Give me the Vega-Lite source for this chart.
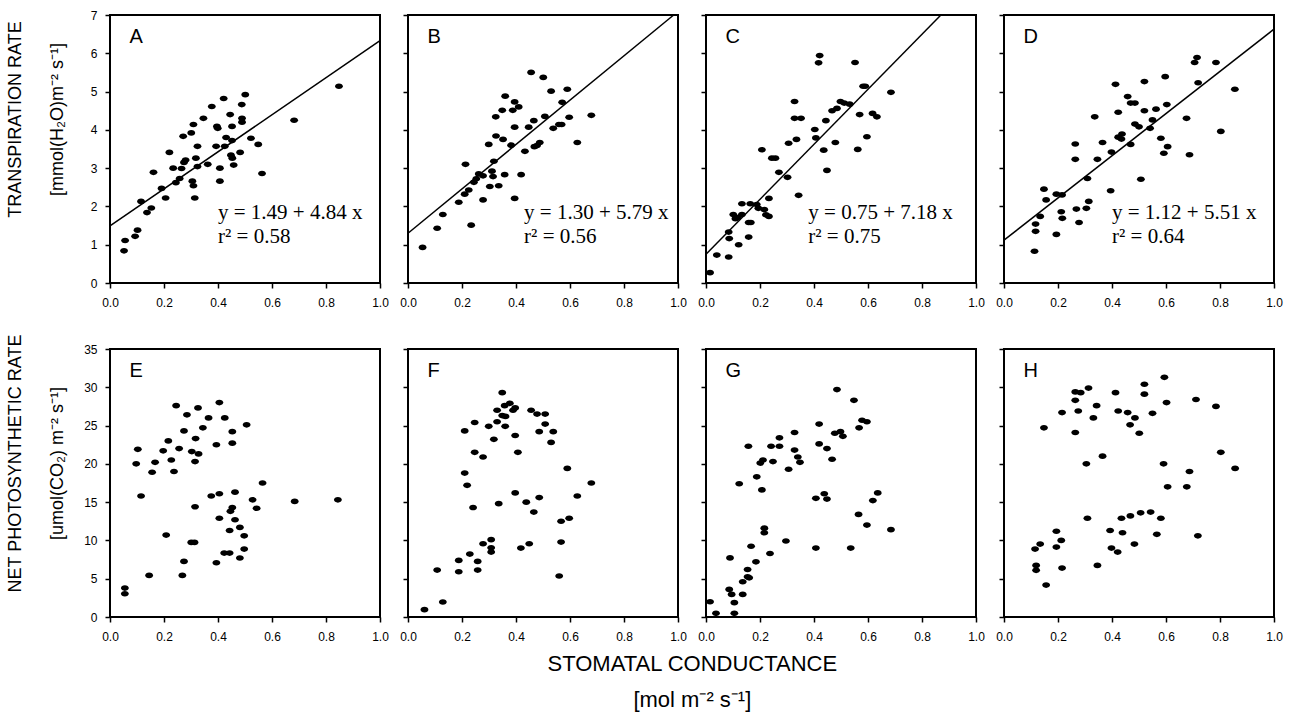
{
"$schema":"https://vega.github.io/schema/vega-lite/v6.json",
"background":"white",
"padding":{"left":5,"top":8,"right":5,"bottom":3},
"config":{
 "view":{"stroke":"black","strokeWidth":2},
 "axis":{"grid":false,"domain":false,"ticks":true,"tickColor":"black","tickWidth":1.5,"tickSize":5,"labelFont":"Liberation Sans","labelFontSize":12,"labelColor":"black","labelFlush":false,"labelOverlap":false,"titleFont":"Liberation Sans","titleFontSize":18,"titleFontWeight":"normal","titleColor":"black","titleLineHeight":42},
 "axisX":{"labelPadding":9},
 "axisY":{"labelPadding":8},
 "point":{"shape":"M-1,0A1,0.72 0 1,1 1,0A1,0.72 0 1,1 -1,0Z","filled":true,"color":"black","opacity":1,"size":62},
 "line":{"color":"black","strokeWidth":1.5}
},
"title":{"text":["STOMATAL CONDUCTANCE","[mol m⁻² s⁻¹]"],"orient":"bottom","anchor":"middle","frame":"bounds","dx":48,"font":"Liberation Sans","fontSize":22,"fontWeight":"normal","color":"black","lineHeight":36,"offset":11},
"datasets":{
"fit":[
{"p":"A","g":0,"r":1.49},{"p":"A","g":1,"r":6.33},
{"p":"B","g":0,"r":1.30},{"p":"B","g":0.984,"r":7.0},
{"p":"C","g":0,"r":0.75},{"p":"C","g":0.870,"r":7.0},
{"p":"D","g":0,"r":1.12},{"p":"D","g":1,"r":6.63}
],
"ann":[
{"p":"A","k":"L","g":0.072,"r":6.26,"t":"A"},{"p":"B","k":"L","g":0.072,"r":6.26,"t":"B"},{"p":"C","k":"L","g":0.072,"r":6.26,"t":"C"},{"p":"D","k":"L","g":0.072,"r":6.26,"t":"D"},
{"p":"E","k":"L","g":0.072,"r":31.3,"t":"E"},{"p":"F","k":"L","g":0.072,"r":31.3,"t":"F"},{"p":"G","k":"L","g":0.072,"r":31.3,"t":"G"},{"p":"H","k":"L","g":0.072,"r":31.3,"t":"H"},
{"p":"A","k":"E","g":0.40,"r":1.66,"t":"y = 1.49 + 4.84 x"},{"p":"A","k":"E","g":0.40,"r":1.04,"t":"r² = 0.58"},
{"p":"B","k":"E","g":0.43,"r":1.66,"t":"y = 1.30 + 5.79 x"},{"p":"B","k":"E","g":0.43,"r":1.04,"t":"r² = 0.56"},
{"p":"C","k":"E","g":0.379,"r":1.66,"t":"y = 0.75 + 7.18 x"},{"p":"C","k":"E","g":0.379,"r":1.04,"t":"r² = 0.75"},
{"p":"D","k":"E","g":0.40,"r":1.66,"t":"y = 1.12 + 5.51 x"},{"p":"D","k":"E","g":0.40,"r":1.04,"t":"r² = 0.64"}
],
"pts":[
{"p":"A","g":0.052,"r":0.84},{"p":"A","g":0.056,"r":1.11},{"p":"A","g":0.093,"r":1.22},{"p":"A","g":0.102,"r":1.38},{"p":"A","g":0.115,"r":2.13},{"p":"A","g":0.137,"r":1.84},{"p":"A","g":0.153,"r":1.96},{"p":"A","g":0.161,"r":2.89},{"p":"A","g":0.191,"r":2.47},{"p":"A","g":0.206,"r":2.22},{"p":"A","g":0.220,"r":3.41},{"p":"A","g":0.234,"r":3.00},{"p":"A","g":0.244,"r":2.62},{"p":"A","g":0.258,"r":2.73},{"p":"A","g":0.271,"r":3.83},{"p":"A","g":0.265,"r":2.99},{"p":"A","g":0.274,"r":3.15},{"p":"A","g":0.280,"r":3.21},{"p":"A","g":0.301,"r":3.92},{"p":"A","g":0.309,"r":4.14},{"p":"A","g":0.305,"r":2.66},{"p":"A","g":0.309,"r":2.54},{"p":"A","g":0.314,"r":2.22},{"p":"A","g":0.318,"r":3.26},{"p":"A","g":0.324,"r":3.57},{"p":"A","g":0.324,"r":3.04},{"p":"A","g":0.346,"r":4.30},{"p":"A","g":0.362,"r":3.10},{"p":"A","g":0.377,"r":4.61},{"p":"A","g":0.393,"r":3.57},{"p":"A","g":0.396,"r":4.09},{"p":"A","g":0.399,"r":4.04},{"p":"A","g":0.407,"r":3.00},{"p":"A","g":0.407,"r":2.66},{"p":"A","g":0.421,"r":4.82},{"p":"A","g":0.425,"r":3.57},{"p":"A","g":0.430,"r":3.80},{"p":"A","g":0.445,"r":4.40},{"p":"A","g":0.448,"r":3.34},{"p":"A","g":0.452,"r":3.72},{"p":"A","g":0.452,"r":4.09},{"p":"A","g":0.453,"r":3.26},{"p":"A","g":0.458,"r":3.08},{"p":"A","g":0.482,"r":3.41},{"p":"A","g":0.488,"r":4.66},{"p":"A","g":0.489,"r":4.30},{"p":"A","g":0.489,"r":4.20},{"p":"A","g":0.501,"r":4.92},{"p":"A","g":0.522,"r":3.78},{"p":"A","g":0.549,"r":3.62},{"p":"A","g":0.563,"r":2.86},{"p":"A","g":0.682,"r":4.25},{"p":"A","g":0.848,"r":5.14},
{"p":"B","g":0.054,"r":0.93},{"p":"B","g":0.108,"r":1.43},{"p":"B","g":0.129,"r":1.79},{"p":"B","g":0.188,"r":2.11},{"p":"B","g":0.210,"r":2.32},{"p":"B","g":0.213,"r":3.10},{"p":"B","g":0.225,"r":2.43},{"p":"B","g":0.234,"r":1.51},{"p":"B","g":0.244,"r":2.63},{"p":"B","g":0.253,"r":2.72},{"p":"B","g":0.262,"r":2.85},{"p":"B","g":0.278,"r":2.17},{"p":"B","g":0.278,"r":2.80},{"p":"B","g":0.299,"r":3.62},{"p":"B","g":0.303,"r":2.52},{"p":"B","g":0.311,"r":2.92},{"p":"B","g":0.315,"r":2.78},{"p":"B","g":0.318,"r":3.18},{"p":"B","g":0.325,"r":4.34},{"p":"B","g":0.326,"r":3.84},{"p":"B","g":0.336,"r":2.54},{"p":"B","g":0.349,"r":4.51},{"p":"B","g":0.352,"r":3.75},{"p":"B","g":0.358,"r":2.83},{"p":"B","g":0.360,"r":4.88},{"p":"B","g":0.382,"r":3.60},{"p":"B","g":0.388,"r":4.51},{"p":"B","g":0.395,"r":4.73},{"p":"B","g":0.395,"r":4.07},{"p":"B","g":0.395,"r":2.21},{"p":"B","g":0.410,"r":4.60},{"p":"B","g":0.419,"r":2.83},{"p":"B","g":0.433,"r":3.44},{"p":"B","g":0.447,"r":4.07},{"p":"B","g":0.456,"r":5.50},{"p":"B","g":0.466,"r":4.24},{"p":"B","g":0.468,"r":3.56},{"p":"B","g":0.478,"r":3.59},{"p":"B","g":0.488,"r":3.67},{"p":"B","g":0.501,"r":5.37},{"p":"B","g":0.507,"r":4.35},{"p":"B","g":0.530,"r":5.01},{"p":"B","g":0.538,"r":4.04},{"p":"B","g":0.559,"r":4.14},{"p":"B","g":0.569,"r":4.14},{"p":"B","g":0.571,"r":4.72},{"p":"B","g":0.590,"r":5.06},{"p":"B","g":0.597,"r":4.33},{"p":"B","g":0.627,"r":3.67},{"p":"B","g":0.679,"r":4.38},
{"p":"C","g":0.015,"r":0.27},{"p":"C","g":0.040,"r":0.73},{"p":"C","g":0.084,"r":0.68},{"p":"C","g":0.086,"r":1.16},{"p":"C","g":0.084,"r":1.33},{"p":"C","g":0.121,"r":1.00},{"p":"C","g":0.101,"r":1.79},{"p":"C","g":0.109,"r":1.68},{"p":"C","g":0.117,"r":1.71},{"p":"C","g":0.133,"r":1.79},{"p":"C","g":0.133,"r":2.07},{"p":"C","g":0.158,"r":1.20},{"p":"C","g":0.158,"r":1.58},{"p":"C","g":0.166,"r":1.58},{"p":"C","g":0.164,"r":2.07},{"p":"C","g":0.188,"r":2.05},{"p":"C","g":0.194,"r":1.95},{"p":"C","g":0.216,"r":1.92},{"p":"C","g":0.222,"r":1.78},{"p":"C","g":0.233,"r":1.74},{"p":"C","g":0.233,"r":2.21},{"p":"C","g":0.207,"r":3.48},{"p":"C","g":0.244,"r":3.26},{"p":"C","g":0.257,"r":3.26},{"p":"C","g":0.270,"r":2.89},{"p":"C","g":0.302,"r":2.76},{"p":"C","g":0.306,"r":3.65},{"p":"C","g":0.328,"r":4.74},{"p":"C","g":0.328,"r":4.30},{"p":"C","g":0.352,"r":4.30},{"p":"C","g":0.335,"r":3.75},{"p":"C","g":0.343,"r":2.29},{"p":"C","g":0.403,"r":4.01},{"p":"C","g":0.407,"r":3.79},{"p":"C","g":0.417,"r":5.75},{"p":"C","g":0.421,"r":5.94},{"p":"C","g":0.436,"r":3.47},{"p":"C","g":0.444,"r":4.24},{"p":"C","g":0.448,"r":2.94},{"p":"C","g":0.467,"r":4.50},{"p":"C","g":0.479,"r":3.67},{"p":"C","g":0.485,"r":4.56},{"p":"C","g":0.498,"r":4.74},{"p":"C","g":0.512,"r":4.70},{"p":"C","g":0.532,"r":4.67},{"p":"C","g":0.552,"r":5.76},{"p":"C","g":0.562,"r":3.49},{"p":"C","g":0.569,"r":4.40},{"p":"C","g":0.582,"r":5.14},{"p":"C","g":0.590,"r":5.14},{"p":"C","g":0.596,"r":3.82},{"p":"C","g":0.617,"r":4.43},{"p":"C","g":0.633,"r":4.34},{"p":"C","g":0.685,"r":4.98},
{"p":"D","g":0.113,"r":0.83},{"p":"D","g":0.117,"r":1.35},{"p":"D","g":0.117,"r":1.54},{"p":"D","g":0.134,"r":1.74},{"p":"D","g":0.148,"r":2.45},{"p":"D","g":0.156,"r":2.17},{"p":"D","g":0.194,"r":1.27},{"p":"D","g":0.194,"r":2.32},{"p":"D","g":0.215,"r":2.30},{"p":"D","g":0.212,"r":1.86},{"p":"D","g":0.216,"r":1.69},{"p":"D","g":0.268,"r":1.93},{"p":"D","g":0.264,"r":3.63},{"p":"D","g":0.264,"r":3.23},{"p":"D","g":0.278,"r":1.58},{"p":"D","g":0.309,"r":2.73},{"p":"D","g":0.305,"r":1.95},{"p":"D","g":0.314,"r":2.13},{"p":"D","g":0.336,"r":4.34},{"p":"D","g":0.346,"r":3.23},{"p":"D","g":0.365,"r":3.67},{"p":"D","g":0.395,"r":2.41},{"p":"D","g":0.398,"r":3.42},{"p":"D","g":0.413,"r":5.19},{"p":"D","g":0.423,"r":4.46},{"p":"D","g":0.423,"r":3.81},{"p":"D","g":0.437,"r":3.89},{"p":"D","g":0.435,"r":3.76},{"p":"D","g":0.458,"r":4.87},{"p":"D","g":0.469,"r":4.70},{"p":"D","g":0.485,"r":4.70},{"p":"D","g":0.469,"r":3.62},{"p":"D","g":0.485,"r":4.15},{"p":"D","g":0.500,"r":4.08},{"p":"D","g":0.507,"r":2.71},{"p":"D","g":0.520,"r":5.26},{"p":"D","g":0.520,"r":4.50},{"p":"D","g":0.541,"r":4.04},{"p":"D","g":0.550,"r":4.26},{"p":"D","g":0.563,"r":4.54},{"p":"D","g":0.581,"r":3.78},{"p":"D","g":0.592,"r":3.39},{"p":"D","g":0.597,"r":5.39},{"p":"D","g":0.603,"r":4.66},{"p":"D","g":0.606,"r":3.56},{"p":"D","g":0.676,"r":4.30},{"p":"D","g":0.687,"r":3.35},{"p":"D","g":0.706,"r":5.76},{"p":"D","g":0.715,"r":5.89},{"p":"D","g":0.719,"r":5.23},{"p":"D","g":0.785,"r":5.76},{"p":"D","g":0.803,"r":3.96},{"p":"D","g":0.855,"r":5.06},
{"p":"E","g":0.055,"r":3.78},{"p":"E","g":0.055,"r":3.04},{"p":"E","g":0.097,"r":20.0},{"p":"E","g":0.103,"r":21.9},{"p":"E","g":0.115,"r":15.8},{"p":"E","g":0.145,"r":5.43},{"p":"E","g":0.156,"r":18.9},{"p":"E","g":0.167,"r":20.2},{"p":"E","g":0.197,"r":21.7},{"p":"E","g":0.208,"r":10.7},{"p":"E","g":0.216,"r":23.0},{"p":"E","g":0.227,"r":20.5},{"p":"E","g":0.237,"r":19.0},{"p":"E","g":0.245,"r":27.6},{"p":"E","g":0.256,"r":22.0},{"p":"E","g":0.268,"r":5.43},{"p":"E","g":0.274,"r":7.26},{"p":"E","g":0.274,"r":24.3},{"p":"E","g":0.285,"r":26.4},{"p":"E","g":0.301,"r":9.74},{"p":"E","g":0.313,"r":9.74},{"p":"E","g":0.303,"r":21.6},{"p":"E","g":0.315,"r":20.3},{"p":"E","g":0.315,"r":14.4},{"p":"E","g":0.317,"r":23.3},{"p":"E","g":0.326,"r":27.3},{"p":"E","g":0.328,"r":21.3},{"p":"E","g":0.344,"r":24.7},{"p":"E","g":0.365,"r":26.0},{"p":"E","g":0.375,"r":15.8},{"p":"E","g":0.394,"r":7.09},{"p":"E","g":0.394,"r":22.5},{"p":"E","g":0.405,"r":28.0},{"p":"E","g":0.405,"r":16.1},{"p":"E","g":0.405,"r":12.9},{"p":"E","g":0.423,"r":8.35},{"p":"E","g":0.425,"r":26.0},{"p":"E","g":0.443,"r":8.35},{"p":"E","g":0.443,"r":11.3},{"p":"E","g":0.446,"r":13.8},{"p":"E","g":0.453,"r":14.3},{"p":"E","g":0.453,"r":24.2},{"p":"E","g":0.453,"r":22.7},{"p":"E","g":0.463,"r":16.3},{"p":"E","g":0.463,"r":12.7},{"p":"E","g":0.481,"r":11.7},{"p":"E","g":0.481,"r":7.70},{"p":"E","g":0.497,"r":10.6},{"p":"E","g":0.497,"r":8.87},{"p":"E","g":0.506,"r":25.1},{"p":"E","g":0.528,"r":15.3},{"p":"E","g":0.543,"r":14.2},{"p":"E","g":0.565,"r":17.5},{"p":"E","g":0.684,"r":15.1},{"p":"E","g":0.844,"r":15.3},
{"p":"F","g":0.061,"r":0.96},{"p":"F","g":0.129,"r":1.96},{"p":"F","g":0.108,"r":6.13},{"p":"F","g":0.188,"r":7.39},{"p":"F","g":0.188,"r":5.91},{"p":"F","g":0.210,"r":24.3},{"p":"F","g":0.210,"r":18.8},{"p":"F","g":0.219,"r":17.2},{"p":"F","g":0.229,"r":8.22},{"p":"F","g":0.241,"r":14.3},{"p":"F","g":0.247,"r":25.4},{"p":"F","g":0.247,"r":21.5},{"p":"F","g":0.258,"r":7.26},{"p":"F","g":0.258,"r":6.13},{"p":"F","g":0.278,"r":20.9},{"p":"F","g":0.278,"r":9.57},{"p":"F","g":0.299,"r":24.9},{"p":"F","g":0.308,"r":10.1},{"p":"F","g":0.308,"r":9.04},{"p":"F","g":0.308,"r":8.48},{"p":"F","g":0.318,"r":23.2},{"p":"F","g":0.330,"r":27.0},{"p":"F","g":0.330,"r":25.5},{"p":"F","g":0.336,"r":14.8},{"p":"F","g":0.349,"r":29.3},{"p":"F","g":0.349,"r":26.3},{"p":"F","g":0.358,"r":27.6},{"p":"F","g":0.361,"r":26.2},{"p":"F","g":0.360,"r":24.9},{"p":"F","g":0.377,"r":27.9},{"p":"F","g":0.389,"r":27.0},{"p":"F","g":0.397,"r":27.3},{"p":"F","g":0.397,"r":23.7},{"p":"F","g":0.397,"r":16.2},{"p":"F","g":0.407,"r":21.5},{"p":"F","g":0.418,"r":9.0},{"p":"F","g":0.438,"r":15.0},{"p":"F","g":0.449,"r":9.57},{"p":"F","g":0.456,"r":27.0},{"p":"F","g":0.466,"r":13.7},{"p":"F","g":0.478,"r":26.5},{"p":"F","g":0.486,"r":24.2},{"p":"F","g":0.486,"r":15.6},{"p":"F","g":0.508,"r":26.5},{"p":"F","g":0.508,"r":25.2},{"p":"F","g":0.530,"r":22.8},{"p":"F","g":0.538,"r":24.2},{"p":"F","g":0.560,"r":5.35},{"p":"F","g":0.567,"r":12.5},{"p":"F","g":0.567,"r":9.78},{"p":"F","g":0.590,"r":19.4},{"p":"F","g":0.597,"r":12.9},{"p":"F","g":0.627,"r":15.8},{"p":"F","g":0.679,"r":17.5},
{"p":"G","g":0.015,"r":1.99},{"p":"G","g":0.037,"r":0.48},{"p":"G","g":0.105,"r":0.48},{"p":"G","g":0.105,"r":1.87},{"p":"G","g":0.095,"r":2.95},{"p":"G","g":0.086,"r":3.60},{"p":"G","g":0.089,"r":7.72},{"p":"G","g":0.136,"r":2.95},{"p":"G","g":0.136,"r":4.60},{"p":"G","g":0.154,"r":5.25},{"p":"G","g":0.160,"r":5.12},{"p":"G","g":0.154,"r":6.20},{"p":"G","g":0.185,"r":7.20},{"p":"G","g":0.167,"r":9.24},{"p":"G","g":0.237,"r":8.29},{"p":"G","g":0.296,"r":9.93},{"p":"G","g":0.216,"r":11.6},{"p":"G","g":0.216,"r":11.0},{"p":"G","g":0.123,"r":17.4},{"p":"G","g":0.207,"r":16.6},{"p":"G","g":0.157,"r":22.3},{"p":"G","g":0.188,"r":18.3},{"p":"G","g":0.201,"r":20.1},{"p":"G","g":0.211,"r":20.5},{"p":"G","g":0.241,"r":22.3},{"p":"G","g":0.248,"r":20.3},{"p":"G","g":0.272,"r":23.4},{"p":"G","g":0.272,"r":22.3},{"p":"G","g":0.306,"r":19.3},{"p":"G","g":0.328,"r":24.1},{"p":"G","g":0.328,"r":21.8},{"p":"G","g":0.340,"r":20.9},{"p":"G","g":0.348,"r":20.2},{"p":"G","g":0.407,"r":15.5},{"p":"G","g":0.407,"r":9.0},{"p":"G","g":0.419,"r":25.2},{"p":"G","g":0.419,"r":22.6},{"p":"G","g":0.438,"r":16.1},{"p":"G","g":0.448,"r":15.4},{"p":"G","g":0.448,"r":22.0},{"p":"G","g":0.467,"r":20.6},{"p":"G","g":0.477,"r":24.0},{"p":"G","g":0.485,"r":29.7},{"p":"G","g":0.498,"r":24.2},{"p":"G","g":0.507,"r":23.6},{"p":"G","g":0.536,"r":9.0},{"p":"G","g":0.548,"r":28.3},{"p":"G","g":0.565,"r":13.4},{"p":"G","g":0.567,"r":24.7},{"p":"G","g":0.578,"r":25.7},{"p":"G","g":0.596,"r":25.5},{"p":"G","g":0.596,"r":12.0},{"p":"G","g":0.618,"r":15.2},{"p":"G","g":0.636,"r":16.2},{"p":"G","g":0.685,"r":11.4},
{"p":"H","g":0.115,"r":8.87},{"p":"H","g":0.119,"r":6.74},{"p":"H","g":0.119,"r":6.09},{"p":"H","g":0.134,"r":9.52},{"p":"H","g":0.148,"r":24.7},{"p":"H","g":0.156,"r":4.17},{"p":"H","g":0.194,"r":11.2},{"p":"H","g":0.194,"r":9.13},{"p":"H","g":0.212,"r":10.0},{"p":"H","g":0.215,"r":6.39},{"p":"H","g":0.215,"r":26.7},{"p":"H","g":0.264,"r":29.4},{"p":"H","g":0.264,"r":28.3},{"p":"H","g":0.264,"r":24.1},{"p":"H","g":0.275,"r":26.9},{"p":"H","g":0.284,"r":29.3},{"p":"H","g":0.305,"r":20.0},{"p":"H","g":0.309,"r":12.9},{"p":"H","g":0.313,"r":29.9},{"p":"H","g":0.331,"r":26.0},{"p":"H","g":0.343,"r":27.6},{"p":"H","g":0.346,"r":6.74},{"p":"H","g":0.365,"r":21.0},{"p":"H","g":0.393,"r":11.3},{"p":"H","g":0.398,"r":9.0},{"p":"H","g":0.413,"r":29.3},{"p":"H","g":0.421,"r":8.48},{"p":"H","g":0.423,"r":26.9},{"p":"H","g":0.435,"r":12.9},{"p":"H","g":0.439,"r":11.0},{"p":"H","g":0.458,"r":26.7},{"p":"H","g":0.467,"r":25.1},{"p":"H","g":0.468,"r":13.2},{"p":"H","g":0.483,"r":9.52},{"p":"H","g":0.485,"r":26.0},{"p":"H","g":0.501,"r":24.0},{"p":"H","g":0.506,"r":13.6},{"p":"H","g":0.520,"r":30.4},{"p":"H","g":0.520,"r":29.1},{"p":"H","g":0.543,"r":13.7},{"p":"H","g":0.550,"r":26.6},{"p":"H","g":0.566,"r":10.8},{"p":"H","g":0.581,"r":12.9},{"p":"H","g":0.591,"r":20.0},{"p":"H","g":0.594,"r":31.3},{"p":"H","g":0.602,"r":28.0},{"p":"H","g":0.606,"r":17.0},{"p":"H","g":0.677,"r":17.0},{"p":"H","g":0.687,"r":19.0},{"p":"H","g":0.711,"r":28.4},{"p":"H","g":0.718,"r":10.6},{"p":"H","g":0.785,"r":27.5},{"p":"H","g":0.803,"r":21.5},{"p":"H","g":0.856,"r":19.4}
]
},
"columns":4,
"spacing":{"row":66,"column":28},
"bounds":"flush",
"concat":[
{"width":270,"height":268,
 "encoding":{"x":{"field":"g","type":"quantitative","scale":{"domain":[0,1],"nice":false},"axis":{"values":[0,0.2,0.4,0.6,0.8,1],"format":".1f","title":null}},
   "y":{"field":"r","type":"quantitative","scale":{"domain":[0,7],"nice":false},"axis":{"values":[0,1,2,3,4,5,6,7],"format":"d","title":["TRANSPIRATION RATE","[mmol(H₂O)m⁻² s⁻¹]"],"titlePadding":24,"titleY":104}}},
 "layer":[
 {"data":{"name":"pts"},"transform":[{"filter":"datum.p==='A'"}],"mark":"point"},
 {"data":{"name":"fit"},"transform":[{"filter":"datum.p==='A'"}],"mark":"line"},
 {"data":{"name":"ann"},"transform":[{"filter":"datum.p==='A' && datum.k==='L'"}],"mark":{"type":"text","align":"left","baseline":"alphabetic","font":"Liberation Sans","fontSize":20,"color":"black"},"encoding":{"text":{"field":"t"}}},
 {"data":{"name":"ann"},"transform":[{"filter":"datum.p==='A' && datum.k==='E'"}],"mark":{"type":"text","align":"left","baseline":"alphabetic","font":"Liberation Serif","fontSize":21,"color":"black"},"encoding":{"text":{"field":"t"}}}
]},
{"width":270,"height":268,
 "encoding":{"x":{"field":"g","type":"quantitative","scale":{"domain":[0,1],"nice":false},"axis":{"values":[0,0.2,0.4,0.6,0.8,1],"format":".1f","title":null}},
   "y":{"field":"r","type":"quantitative","scale":{"domain":[0,7],"nice":false},"axis":{"values":[0,1,2,3,4,5,6,7],"labels":false,"title":null}}},
 "layer":[
 {"data":{"name":"pts"},"transform":[{"filter":"datum.p==='B'"}],"mark":"point"},
 {"data":{"name":"fit"},"transform":[{"filter":"datum.p==='B'"}],"mark":"line"},
 {"data":{"name":"ann"},"transform":[{"filter":"datum.p==='B' && datum.k==='L'"}],"mark":{"type":"text","align":"left","baseline":"alphabetic","font":"Liberation Sans","fontSize":20,"color":"black"},"encoding":{"text":{"field":"t"}}},
 {"data":{"name":"ann"},"transform":[{"filter":"datum.p==='B' && datum.k==='E'"}],"mark":{"type":"text","align":"left","baseline":"alphabetic","font":"Liberation Serif","fontSize":21,"color":"black"},"encoding":{"text":{"field":"t"}}}
]},
{"width":270,"height":268,
 "encoding":{"x":{"field":"g","type":"quantitative","scale":{"domain":[0,1],"nice":false},"axis":{"values":[0,0.2,0.4,0.6,0.8,1],"format":".1f","title":null}},
   "y":{"field":"r","type":"quantitative","scale":{"domain":[0,7],"nice":false},"axis":{"values":[0,1,2,3,4,5,6,7],"labels":false,"title":null}}},
 "layer":[
 {"data":{"name":"pts"},"transform":[{"filter":"datum.p==='C'"}],"mark":"point"},
 {"data":{"name":"fit"},"transform":[{"filter":"datum.p==='C'"}],"mark":"line"},
 {"data":{"name":"ann"},"transform":[{"filter":"datum.p==='C' && datum.k==='L'"}],"mark":{"type":"text","align":"left","baseline":"alphabetic","font":"Liberation Sans","fontSize":20,"color":"black"},"encoding":{"text":{"field":"t"}}},
 {"data":{"name":"ann"},"transform":[{"filter":"datum.p==='C' && datum.k==='E'"}],"mark":{"type":"text","align":"left","baseline":"alphabetic","font":"Liberation Serif","fontSize":21,"color":"black"},"encoding":{"text":{"field":"t"}}}
]},
{"width":270,"height":268,
 "encoding":{"x":{"field":"g","type":"quantitative","scale":{"domain":[0,1],"nice":false},"axis":{"values":[0,0.2,0.4,0.6,0.8,1],"format":".1f","title":null}},
   "y":{"field":"r","type":"quantitative","scale":{"domain":[0,7],"nice":false},"axis":{"values":[0,1,2,3,4,5,6,7],"labels":false,"title":null}}},
 "layer":[
 {"data":{"name":"pts"},"transform":[{"filter":"datum.p==='D'"}],"mark":"point"},
 {"data":{"name":"fit"},"transform":[{"filter":"datum.p==='D'"}],"mark":"line"},
 {"data":{"name":"ann"},"transform":[{"filter":"datum.p==='D' && datum.k==='L'"}],"mark":{"type":"text","align":"left","baseline":"alphabetic","font":"Liberation Sans","fontSize":20,"color":"black"},"encoding":{"text":{"field":"t"}}},
 {"data":{"name":"ann"},"transform":[{"filter":"datum.p==='D' && datum.k==='E'"}],"mark":{"type":"text","align":"left","baseline":"alphabetic","font":"Liberation Serif","fontSize":21,"color":"black"},"encoding":{"text":{"field":"t"}}}
]},
{"width":270,"height":268,
 "encoding":{"x":{"field":"g","type":"quantitative","scale":{"domain":[0,1],"nice":false},"axis":{"values":[0,0.2,0.4,0.6,0.8,1],"format":".1f","title":null}},
   "y":{"field":"r","type":"quantitative","scale":{"domain":[0,35],"nice":false},"axis":{"values":[0,5,10,15,20,25,30,35],"format":"d","title":["NET PHOTOSYNTHETIC RATE","[umol(CO₂) m⁻² s⁻¹]"],"titlePadding":17,"titleY":114}}},
 "layer":[
 {"data":{"name":"pts"},"transform":[{"filter":"datum.p==='E'"}],"mark":"point"},
 {"data":{"name":"ann"},"transform":[{"filter":"datum.p==='E' && datum.k==='L'"}],"mark":{"type":"text","align":"left","baseline":"alphabetic","font":"Liberation Sans","fontSize":20,"color":"black"},"encoding":{"text":{"field":"t"}}}
]},
{"width":270,"height":268,
 "encoding":{"x":{"field":"g","type":"quantitative","scale":{"domain":[0,1],"nice":false},"axis":{"values":[0,0.2,0.4,0.6,0.8,1],"format":".1f","title":null}},
   "y":{"field":"r","type":"quantitative","scale":{"domain":[0,35],"nice":false},"axis":{"values":[0,5,10,15,20,25,30,35],"labels":false,"title":null}}},
 "layer":[
 {"data":{"name":"pts"},"transform":[{"filter":"datum.p==='F'"}],"mark":"point"},
 {"data":{"name":"ann"},"transform":[{"filter":"datum.p==='F' && datum.k==='L'"}],"mark":{"type":"text","align":"left","baseline":"alphabetic","font":"Liberation Sans","fontSize":20,"color":"black"},"encoding":{"text":{"field":"t"}}}
]},
{"width":270,"height":268,
 "encoding":{"x":{"field":"g","type":"quantitative","scale":{"domain":[0,1],"nice":false},"axis":{"values":[0,0.2,0.4,0.6,0.8,1],"format":".1f","title":null}},
   "y":{"field":"r","type":"quantitative","scale":{"domain":[0,35],"nice":false},"axis":{"values":[0,5,10,15,20,25,30,35],"labels":false,"title":null}}},
 "layer":[
 {"data":{"name":"pts"},"transform":[{"filter":"datum.p==='G'"}],"mark":"point"},
 {"data":{"name":"ann"},"transform":[{"filter":"datum.p==='G' && datum.k==='L'"}],"mark":{"type":"text","align":"left","baseline":"alphabetic","font":"Liberation Sans","fontSize":20,"color":"black"},"encoding":{"text":{"field":"t"}}}
]},
{"width":270,"height":268,
 "encoding":{"x":{"field":"g","type":"quantitative","scale":{"domain":[0,1],"nice":false},"axis":{"values":[0,0.2,0.4,0.6,0.8,1],"format":".1f","title":null}},
   "y":{"field":"r","type":"quantitative","scale":{"domain":[0,35],"nice":false},"axis":{"values":[0,5,10,15,20,25,30,35],"labels":false,"title":null}}},
 "layer":[
 {"data":{"name":"pts"},"transform":[{"filter":"datum.p==='H'"}],"mark":"point"},
 {"data":{"name":"ann"},"transform":[{"filter":"datum.p==='H' && datum.k==='L'"}],"mark":{"type":"text","align":"left","baseline":"alphabetic","font":"Liberation Sans","fontSize":20,"color":"black"},"encoding":{"text":{"field":"t"}}}
]}
]
}
